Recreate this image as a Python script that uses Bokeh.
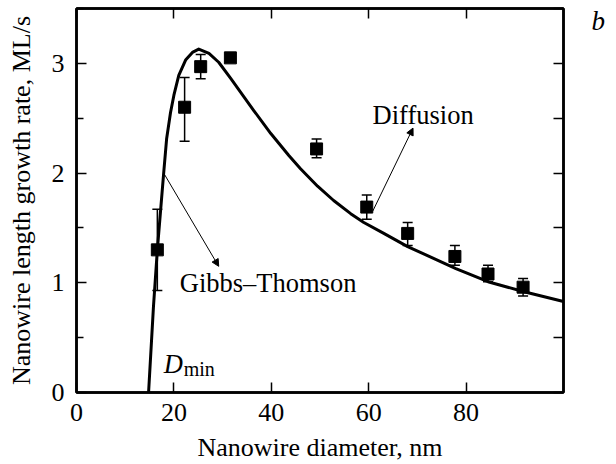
from bokeh.plotting import figure
from bokeh.models import (ColumnDataSource, Whisker, TeeHead, Arrow, NormalHead,
                          Label, LinearAxis, FixedTicker, Range1d, CustomJSTickFormatter)
from bokeh.embed import file_html
from bokeh.resources import INLINE

# measured data (diameter nm, growth rate ML/s)
diam = [16.6, 22.2, 25.5, 31.6, 49.3, 59.6, 68.0, 77.7, 84.5, 91.7]
rate = [1.30, 2.60, 2.97, 3.05, 2.22, 1.69, 1.45, 1.24, 1.08, 0.96]
err_low = [0.93, 2.29, 2.86, 3.05, 2.14, 1.58, 1.34, 1.16, 1.01, 0.88]
err_high = [1.67, 2.87, 3.08, 3.05, 2.31, 1.80, 1.55, 1.34, 1.16, 1.04]

# theoretical curve
curve_x = [14.8, 15.8, 16.6, 17.9, 18.5, 19.3, 20.0, 21.0, 22.4, 23.8, 25.1,
           27.2, 29.2, 31.7, 36.4, 39.9, 43.6, 46.0, 49.5, 52.8, 56.3, 59.0,
           63.1, 68.0, 77.9, 84.5, 91.7, 100.0]
curve_y = [0.0, 0.78, 1.30, 2.00, 2.31, 2.55, 2.71, 2.89, 3.03, 3.10, 3.13,
           3.09, 3.01, 2.86, 2.57, 2.36, 2.16, 2.04, 1.88, 1.75, 1.63, 1.55,
           1.45, 1.33, 1.13, 1.01, 0.92, 0.83]

x_ticks = [0, 20, 40, 60, 80]
y_ticks = [0, 1, 2, 3]
y_minor = [0.5, 1.5, 2.5, 3.5]

FONT = "Liberation Serif"

p = figure(width=616, height=464, x_range=Range1d(0, 100), y_range=Range1d(0, 3.5),
           output_backend="svg", toolbar_location=None,
           min_border_left=76, min_border_right=53, min_border_top=8,
           min_border_bottom=72)
p.grid.visible = False
p.outline_line_color = "black"
p.outline_line_width = 2.5

empty_fmt = CustomJSTickFormatter(code="return ''")

def style_axis(ax, labels=True):
    ax.axis_line_width = 2.5
    ax.axis_line_color = "black"
    ax.major_tick_in = 10
    ax.major_tick_out = 0
    ax.minor_tick_in = 7
    ax.minor_tick_out = 0
    ax.major_tick_line_width = 1.5
    ax.minor_tick_line_width = 1.5
    ax.major_label_text_font = FONT
    ax.major_label_text_font_size = "26px"
    ax.major_label_text_color = "black"
    ax.axis_label_text_font = FONT
    ax.axis_label_text_font_size = "26px"
    ax.axis_label_text_font_style = "normal"
    ax.axis_label_text_color = "black"
    if not labels:
        ax.formatter = empty_fmt
        ax.major_label_standoff = 0

xb = p.xaxis[0]
xb.ticker = FixedTicker(ticks=x_ticks, minor_ticks=[])
style_axis(xb)
xb.major_label_standoff = 11
xb.axis_label = "Nanowire diameter, nm"
xb.axis_label_standoff = 9

yl = p.yaxis[0]
yl.ticker = FixedTicker(ticks=y_ticks, minor_ticks=y_minor)
style_axis(yl)
yl.major_label_standoff = 12
yl.axis_label = "Nanowire length growth rate, ML/s"
yl.axis_label_standoff = 13

xt = LinearAxis(ticker=FixedTicker(ticks=x_ticks, minor_ticks=[]))
style_axis(xt, labels=False)
p.add_layout(xt, "above")

yr = LinearAxis(ticker=FixedTicker(ticks=y_ticks, minor_ticks=y_minor))
style_axis(yr, labels=False)
yr.minor_tick_in = 10
p.add_layout(yr, "right")

# panel letter "b" placed as a lone label outside the frame
yb = LinearAxis(ticker=FixedTicker(ticks=[3.39], minor_ticks=[]),
                formatter=CustomJSTickFormatter(code="return 'b'"))
yb.axis_line_color = None
yb.major_tick_line_color = None
yb.minor_tick_line_color = None
yb.major_tick_in = 0
yb.major_tick_out = 0
yb.major_label_standoff = 28
yb.major_label_text_font = FONT
yb.major_label_text_font_style = "italic"
yb.major_label_text_font_size = "27px"
yb.major_label_text_color = "black"
p.add_layout(yb, "right")

# curve
p.line(curve_x, curve_y, line_color="black", line_width=3, line_join="round")

# error bars
src = ColumnDataSource(dict(x=diam, y=rate, lo=err_low, hi=err_high))
wh = Whisker(source=src, base="x", upper="hi", lower="lo", line_width=1.5,
             line_color="black",
             upper_head=TeeHead(size=10, line_width=1.5, line_color="black"),
             lower_head=TeeHead(size=10, line_width=1.5, line_color="black"))
p.add_layout(wh)

p.scatter("x", "y", source=src, marker="square", size=12, fill_color="black",
          line_color="black")

# annotations
p.add_layout(Arrow(end=NormalHead(size=7, fill_color="black", line_color="black", line_width=1),
                   x_start=17.9, y_start=2.0, x_end=29.2, y_end=1.15,
                   line_width=1, line_color="black"))
p.add_layout(Arrow(end=NormalHead(size=7, fill_color="black", line_color="black", line_width=1),
                   x_start=60.8, y_start=1.65, x_end=69.1, y_end=2.41,
                   line_width=1, line_color="black"))

dy = 0.082  # compensation for baseline offset
p.add_layout(Label(x=21.2, y=0.915 + dy, text="Gibbs–Thomson", text_font=FONT,
                   text_font_size="26.5px", text_color="black", text_baseline="alphabetic"))
p.add_layout(Label(x=60.8, y=2.45 + dy, text="Diffusion", text_font=FONT,
                   text_font_size="26.5px", text_color="black", text_baseline="alphabetic"))
p.add_layout(Label(x=17.9, y=0.174 + dy, text="D", text_font=FONT, text_font_style="italic",
                   text_font_size="26.5px", text_color="black", text_baseline="alphabetic"))
p.add_layout(Label(x=22.0, y=0.130 + dy, text="min", text_font=FONT,
                   text_font_size="20px", text_color="black", text_baseline="alphabetic"))

open("out.html", "w").write(file_html(p, INLINE))
